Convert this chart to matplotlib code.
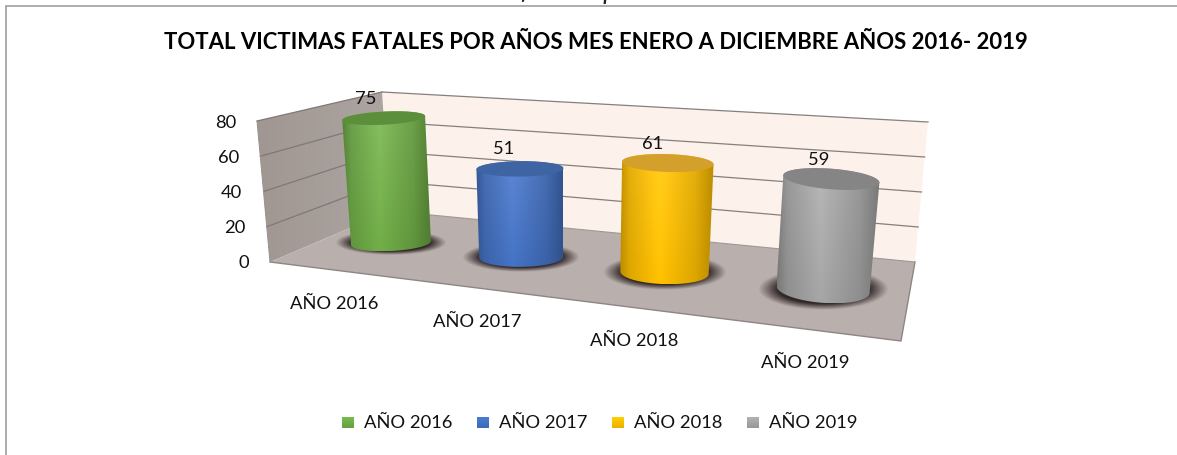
import numpy as np
import matplotlib
matplotlib.use("Agg")
import matplotlib.pyplot as plt
from matplotlib.patches import Polygon

plt.rcParams['font.family'] = ['Lato', 'DejaVu Sans']

# data
categories = ["AÑO 2016", "AÑO 2017", "AÑO 2018", "AÑO 2019"]
values = [75, 51, 61, 59]
y_ticks = [0, 20, 40, 60, 80]
y_max = 80
title = "TOTAL VICTIMAS FATALES POR AÑOS MES ENERO A DICIEMBRE AÑOS 2016- 2019"
caption = "Ilustración 35: Histórico total víctimas fatales por años enero a diciembre años 2016 - 2019"

# styles
base_colors = ["#70AD47", "#4472C4", "#FFC000", "#A5A5A5"]
cap_colors = ["#5B8F3C", "#3F64A4", "#D4A02C", "#858585"]
legend_x = [342, 477, 612, 747]

# box corners of the fake 3d chart, in pixels
FL0, BL0, FR0, BR0 = (270, 262), (390, 211), (901, 341), (915, 262)
FL1, BL1, FR1, BR1 = (257, 121), (382, 92), (918, 176), (928, 122)
PERSP = 1.2
FS = 13.2


def project(t, v, w):
    """ Trilinear map: t left-right, v front-back, w up """
    def lerp(a, b, f):
        return np.array(a) * (1 - f) + np.array(b) * f
    low = lerp(lerp(FL0, FR0, t), lerp(BL0, BR0, t), v)
    high = lerp(lerp(FL1, FR1, t), lerp(BL1, BR1, t), v)
    return lerp(low, high, w)


def slot(i):
    """ Position of a category along the width, with perspective """
    u = (i + 0.5) / len(categories)
    return u / (u + PERSP * (1 - u))


def ellipse(cx, cy, rx, ry, angle, th):
    a = np.radians(angle)
    x = cx + rx * np.cos(th) * np.cos(a) - ry * np.sin(th) * np.sin(a)
    y = cy + rx * np.cos(th) * np.sin(a) + ry * np.sin(th) * np.cos(a)
    return np.column_stack([x, y])


def fill_image(ax, pts, img, z):
    """ Paint an image clipped to a polygon """
    pts = np.array(pts)
    box = [pts[:, 0].min(), pts[:, 0].max(), pts[:, 1].max(), pts[:, 1].min()]
    im = ax.imshow(img, extent=box, aspect='auto', zorder=z, interpolation='bilinear')
    im.set_clip_path(Polygon(pts, closed=True, transform=ax.transData))


def hex_rgb(c):
    return np.array(matplotlib.colors.to_rgb(c))


def body_image(color):
    s = np.linspace(0, 1, 120)
    h = np.linspace(0, 1, 80)
    across = np.interp(s, [0, 0.1, 0.42, 0.8, 1], [0.76, 0.90, 1.05, 0.90, 0.74])
    img = np.zeros((len(h), len(s), 3))
    base = hex_rgb(color)
    for row, hh in enumerate(h):
        shade = across * (1.0 - 0.04 * hh)
        line = np.outer(shade, base)
        # lighter at the top of the cylinder
        glow = 0.12 * (1 - hh) * np.clip(across - 0.76, 0, 1) / 0.3
        img[row] = np.clip(line + glow[:, None] * (1 - base), 0, 1)
    return img


def shadow_image(size=120):
    g = np.linspace(-1, 1, size)
    xx, yy = np.meshgrid(g, g)
    r = np.sqrt(xx ** 2 + yy ** 2)
    img = np.zeros((size, size, 4))
    img[..., :3] = hex_rgb("#2A2020")
    img[..., 3] = np.clip((1 - r) / 0.3, 0, 1) * 0.95
    return img


fig = plt.figure(figsize=(11.77, 4.55), dpi=100)
ax = fig.add_axes([0, 0, 1, 1])

# back wall, left wall, floor
th = np.linspace(0, 2 * np.pi, 181)
back = [BL0, BR0, BR1, BL1]
left = [FL0, BL0, BL1, FL1]
floor = [FL0, FR0, BR0, BL0]
ax.add_patch(Polygon(back, closed=True, fc="#FDF1EC", ec="none", zorder=1))
left_img = np.linspace(hex_rgb("#A09793"), hex_rgb("#ADA5A1"), 60)[None, :, :]
fill_image(ax, left, left_img, 1)
ax.add_patch(Polygon(floor, closed=True, fc="#B9AFAC", ec="none", zorder=2))

# gridlines on both walls
for val in y_ticks:
    w = val / y_max
    a, b, c = project(0, 0, w), project(0, 1, w), project(1, 1, w)
    if val > 0:
        ax.plot([a[0], b[0]], [a[1], b[1]], color="#7F7875", lw=0.9, zorder=3)
        ax.plot([b[0], c[0]], [b[1], c[1]], color="#84807E", lw=0.9, zorder=3)
    ax.text(a[0] - 21, a[1] + 1.5, str(val), ha='right', va='center', fontsize=FS, color="#111111", zorder=8)

ax.plot([FL0[0], FR0[0], BR0[0]], [FL0[1], FR0[1], BR0[1]], color="#8E8684", lw=1.0, zorder=3)
ax.plot([BL0[0], BR0[0]], [BL0[1], BR0[1]], color="#A09896", lw=0.8, zorder=3)
ax.plot([FL0[0], FL1[0]], [FL0[1], FL1[1]], color="#98908C", lw=0.7, zorder=3)

# cylinders
for i, val in enumerate(values):
    t = slot(i)
    v = 0.5 + 0.04 * t
    nudge = -3 * np.sin(np.pi * t)
    bx, by = project(t, v, 0) + np.array([nudge, 0])
    tx, ty = project(t, v, val / y_max) + np.array([nudge, -1])
    rx_b, ry_b = 39 + 9 * t, 7 + 7.5 * t
    rx_t, ry_t = 40.5 + 9 * t, 6 + 5 * t
    tilt = -4 + 10 * t

    sx, sy = rx_b * 1.4, ry_b * 1.55
    ax.imshow(shadow_image(), extent=[bx - sx, bx + sx, by + sy, by - sy], aspect='auto', zorder=4)

    top_back = ellipse(tx, ty, rx_t, ry_t, tilt, np.linspace(np.pi, 2 * np.pi, 60))
    bottom_front = ellipse(bx, by, rx_b, ry_b, tilt, np.linspace(0, np.pi, 60))
    fill_image(ax, np.vstack([top_back, bottom_front]), body_image(base_colors[i]), 5)
    ax.add_patch(Polygon(ellipse(tx, ty, rx_t, ry_t, tilt, th), closed=True,
                         fc=cap_colors[i], ec="none", zorder=6))

    ax.text(tx - 19 + 7 * t, ty - 19.5, str(val), ha='center', va='center', fontsize=FS,
            color="#111111", zorder=8)

    fx, fy = project(t, 0, 0)
    ax.text(fx - 3, fy + 33.5, categories[i], ha='center', va='center', fontsize=FS,
            color="#111111", zorder=8)

# legend
for i, name in enumerate(categories):
    x0 = legend_x[i]
    c = hex_rgb(base_colors[i])
    img = np.linspace(np.clip(c * 1.08, 0, 1), c * 0.92, 20)[:, None, :]
    ax.imshow(img, extent=[x0, x0 + 12, 428, 417], aspect='auto', zorder=8)
    ax.text(x0 + 22, 422.5, name, ha='left', va='center', fontsize=FS, color="#111111", zorder=8)

# title, clipped caption of the page above, chart frame
ax.text(596, 42.5, title, ha='center', va='center', fontsize=15.9, fontweight='bold', color="#000000")
ax.text(602, -0.5, caption, ha='center', va='baseline', fontsize=19.5, style='italic', color="#222222")
ax.plot([6, 6, 1177], [455, 5.5, 5.5], color="#A6A6A6", lw=1.3, solid_joinstyle='miter', zorder=9)

ax.set_xlim(0, 1177)
ax.set_ylim(455, 0)
ax.axis('off')
fig.savefig("out.png", dpi=100)
